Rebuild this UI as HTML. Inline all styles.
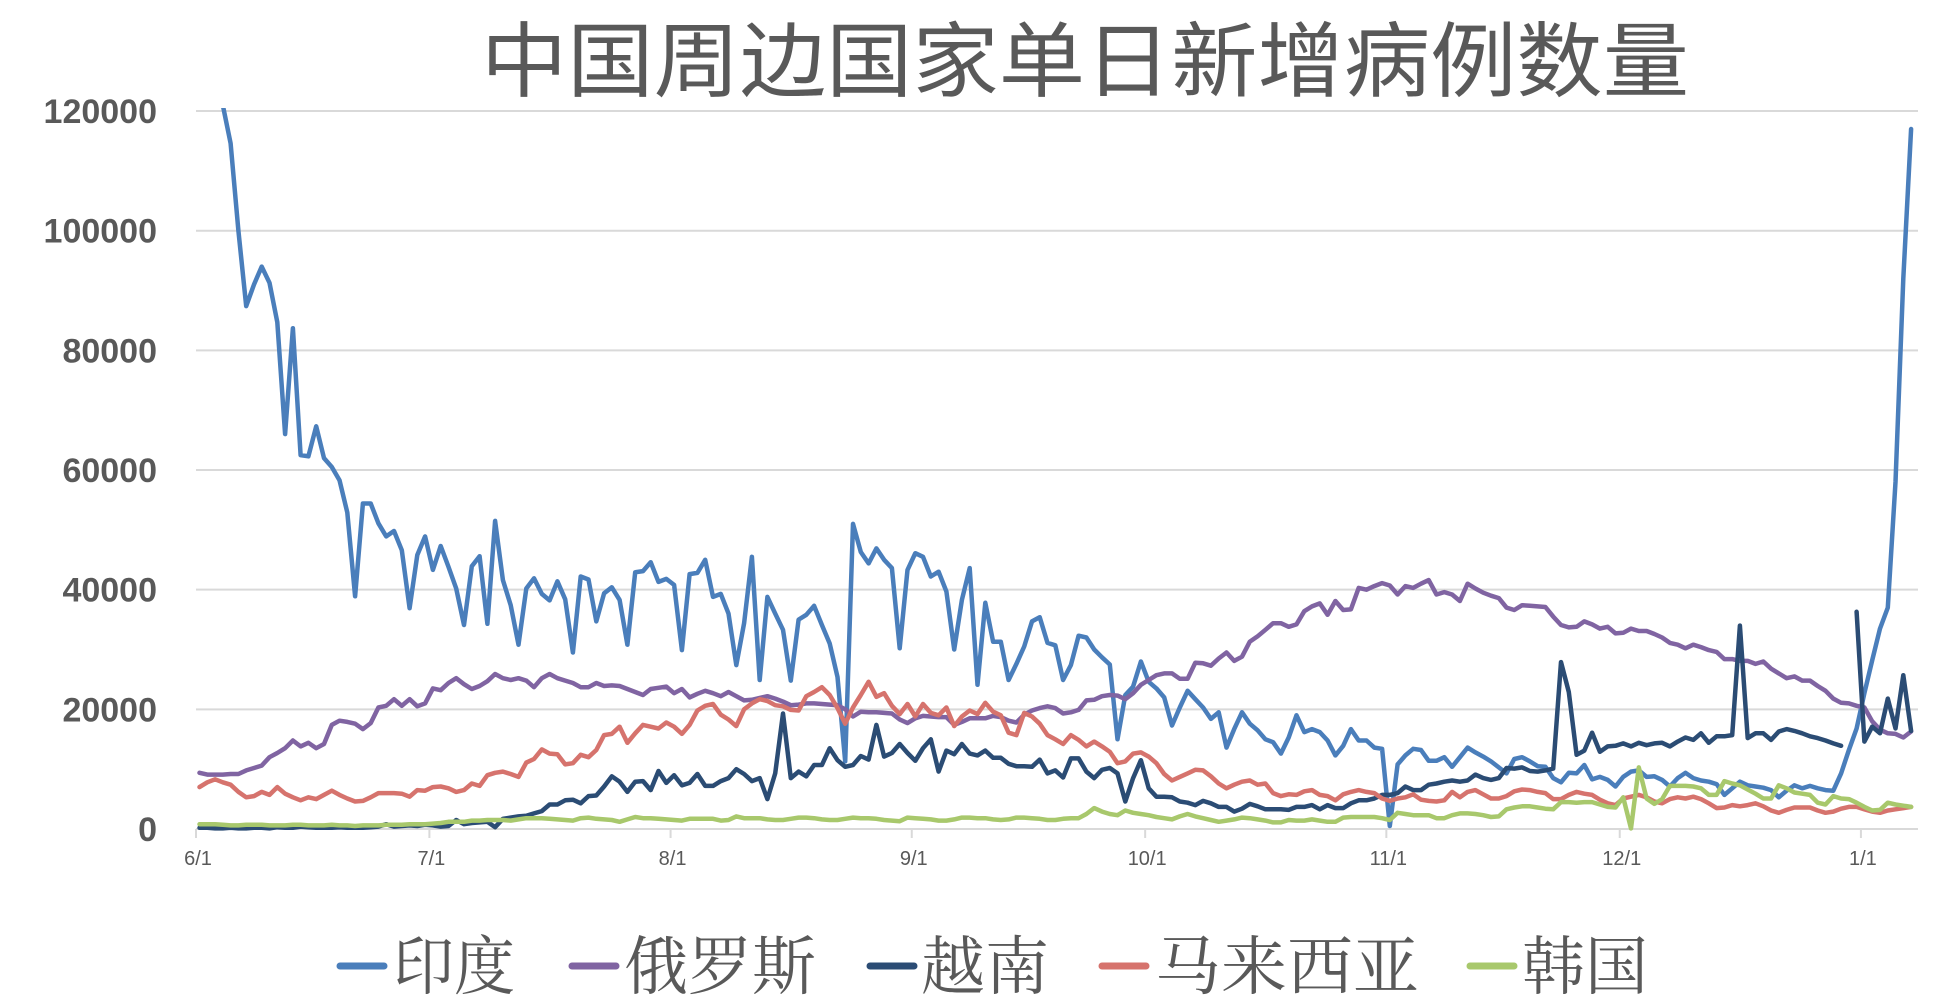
<!DOCTYPE html>
<html><head><meta charset="utf-8"><title>中国周边国家单日新增病例数量</title>
<style>
html,body{margin:0;padding:0;background:#fff;}
svg{display:block;font-family:"Liberation Sans","Noto Sans CJK SC",sans-serif;}
</style></head>
<body>
<svg id="chart" width="1960" height="1004" viewBox="0 0 1960 1004" xmlns="http://www.w3.org/2000/svg">
<rect width="1960" height="1004" fill="#fff"/>
<text x="481" y="90" font-size="82" fill="#595959" textLength="1208" lengthAdjust="spacingAndGlyphs" font-family="'Liberation Sans','Noto Sans CJK SC',sans-serif">中国周边国家单日新增病例数量</text>
<defs><clipPath id="plotclip"><rect x="150" y="108" width="1790" height="730"/></clipPath></defs>
<g id="grid"></g>
<g id="yaxis"></g>
<g id="xaxis"></g>
<g id="series" clip-path="url(#plotclip)"></g>
<g id="legend"></g>
</svg>
<script>
// values in thousands of cases, index = day since 6/1
const seriesNames = ["印度","俄罗斯","越南","马来西亚","韩国"];
const yTicks = [0,20000,40000,60000,80000,100000,120000];
const monthLabels = ["6/1","7/1","8/1","9/1","10/1","11/1","12/1","1/1"];
const monthDays = [0,30,61,92,122,153,183,214];
const india = [135,130,126,121,114.6,100,87.4,91,94,91.3,84.7,66,83.7,62.5,62.3,67.3,62,60.5,58.3,52.9,38.9,54.4,54.4,51.1,48.9,49.8,46.6,36.9,45.8,48.9,43.3,47.3,43.8,40.2,34.1,43.9,45.6,34.3,51.5,41.6,37.4,30.8,40.2,41.9,39.3,38.2,41.4,38.4,29.5,42.2,41.7,34.7,39.4,40.4,38.3,30.8,42.9,43.1,44.6,41.3,41.8,40.8,29.9,42.6,42.8,45,38.8,39.3,36,27.4,34.4,45.5,24.9,38.8,36,33.3,24.8,35,35.8,37.3,34.1,31,25.4,11.3,51,46.3,44.4,46.9,45,43.6,30.2,43.3,46.1,45.5,42.2,43,39.7,30,38.3,43.6,24.1,37.8,31.3,31.3,24.9,27.6,30.5,34.7,35.4,31.1,30.7,24.9,27.4,32.3,32,30,28.7,27.5,15,22.4,23.8,28,24.6,23.5,22,17.3,20.3,23.1,21.7,20.3,18.4,19.5,13.6,16.7,19.5,17.6,16.5,15,14.5,12.6,15.3,19,16.2,16.7,16.2,14.8,12.3,13.9,16.7,14.8,14.8,13.6,13.4,0.5,10.8,12.3,13.4,13.2,11.4,11.4,12,10.4,12,13.6,12.8,12.1,11.3,10.3,9.3,11.7,12,11.3,10.5,10.4,8.5,7.8,9.4,9.3,10.7,8.3,8.7,8.2,7.1,8.7,9.6,9.8,8.7,8.8,8.2,7.1,8.5,9.4,8.5,8.1,7.9,7.5,5.7,6.8,7.9,7.3,7.1,6.9,6.5,5.3,6.4,7.3,6.8,7.2,6.8,6.5,6.4,9.3,13.2,16.8,22.7,28.2,33.5,37,58,92,117];
const russia = [9.4,9.1,9.1,9.1,9.2,9.2,9.8,10.2,10.6,12,12.7,13.5,14.8,13.8,14.4,13.5,14.2,17.4,18.1,17.9,17.6,16.7,17.7,20.3,20.6,21.7,20.6,21.7,20.5,21,23.5,23.2,24.4,25.2,24.2,23.4,23.9,24.7,25.9,25.2,24.9,25.2,24.8,23.7,25.2,25.9,25.2,24.8,24.4,23.7,23.7,24.4,23.9,24,23.9,23.4,22.9,22.4,23.4,23.6,23.8,22.7,23.4,22,22.6,23.1,22.7,22.2,22.9,22.2,21.5,21.6,21.9,22.2,21.8,21.3,20.7,20.8,21,21,20.9,20.8,20.7,20,18.8,19.6,19.5,19.5,19.4,19.3,18.3,17.7,18.5,18.9,18.8,18.7,18.7,17.4,17.9,18.5,18.5,18.5,18.9,18.7,18.1,17.8,19.1,19.8,20.2,20.5,20.2,19.3,19.5,19.9,21.5,21.6,22.2,22.4,22.3,21.7,22.7,24.1,24.9,25.7,26,26,25.1,25.1,27.8,27.7,27.3,28.5,29.5,28.1,28.8,31.3,32.2,33.3,34.4,34.4,33.8,34.2,36.4,37.2,37.7,35.8,38.1,36.6,36.7,40.3,40,40.6,41.1,40.7,39.2,40.6,40.3,41,41.6,39.2,39.6,39.2,38.1,41,40.2,39.5,39,38.6,37,36.6,37.4,37.3,37.2,37.1,35.5,34.1,33.7,33.8,34.7,34.2,33.5,33.8,32.7,32.8,33.5,33.1,33.1,32.6,32,31.1,30.8,30.2,30.8,30.4,29.9,29.6,28.4,28.4,28.1,28.1,27.6,28,26.8,26,25.2,25.5,24.8,24.8,23.9,23.1,21.8,21.1,21,20.6,20.3,18,16.6,16,15.9,15.3,16.3];
const vietnam = [0.2,0.2,0.1,0.1,0.2,0.1,0.1,0.2,0.2,0.1,0.3,0.2,0.2,0.4,0.3,0.2,0.2,0.2,0.3,0.2,0.2,0.2,0.3,0.4,0.8,0.4,0.5,0.6,0.5,0.7,0.6,0.4,0.5,1.5,0.8,1,1.1,1.2,0.3,1.7,1.9,2.1,2.2,2.6,3,4.1,4.1,4.8,4.9,4.3,5.5,5.6,7.1,8.8,7.9,6.2,7.9,8,6.5,9.7,7.7,9,7.3,7.7,9.2,7.2,7.2,8,8.5,10,9.2,8,8.5,5,9.3,19.3,8.5,9.6,8.8,10.7,10.7,13.5,11.5,10.4,10.7,12.2,11.6,17.4,12.1,12.7,14.2,12.7,11.4,13.5,15,9.6,13.1,12.5,14.2,12.6,12.3,13.1,11.9,11.9,10.9,10.5,10.5,10.4,11.6,9.3,9.8,8.6,11.8,11.8,9.6,8.5,9.9,10.2,9.3,4.6,8.5,11.5,6.8,5.4,5.4,5.3,4.6,4.4,4,4.7,4.3,3.7,3.7,2.9,3.4,4.2,3.8,3.3,3.3,3.3,3.2,3.7,3.7,4,3.3,4,3.5,3.5,4.3,4.8,4.8,5.1,5.7,5.7,6,7.1,6.5,6.5,7.4,7.6,7.9,8.1,7.9,8.1,9.1,8.5,8.2,8.5,10.2,10.1,10.3,9.7,9.6,9.8,10.1,27.9,22.9,12.4,13.1,16.1,12.9,13.8,13.9,14.3,13.8,14.4,14,14.3,14.4,13.8,14.6,15.3,14.9,16,14.4,15.5,15.5,15.7,34,15.2,16,16,14.9,16.3,16.7,16.4,16,15.5,15.2,14.8,14.3,13.9,null,36.3,14.6,17.1,16,21.8,16.8,25.7,16.4];
const malaysia = [7,7.8,8.3,7.8,7.4,6.2,5.3,5.5,6.2,5.7,7,5.9,5.3,4.8,5.3,5,5.7,6.4,5.7,5.1,4.6,4.7,5.3,6,6,6,5.9,5.4,6.5,6.4,7,7.1,6.8,6.2,6.5,7.6,7.2,9,9.4,9.6,9.2,8.7,11.1,11.7,13.3,12.6,12.5,10.8,11,12.4,12,13.2,15.7,15.9,17.1,14.4,16,17.4,17.1,16.8,17.8,17.1,15.9,17.4,19.8,20.6,20.9,19.1,18.3,17.2,20,21,21.7,21.4,20.7,20.5,19.9,19.8,22.2,22.9,23.7,22.4,20.2,17.6,20.3,22.4,24.6,22.1,22.7,20.6,19.2,20.9,18.8,20.9,19.4,19,20.3,17.2,18.8,19.8,19.2,21.1,19.6,19,16.1,15.7,19.4,18.8,17.6,15.7,15,14.2,15.7,14.9,13.8,14.6,13.8,12.9,11,11.3,12.6,12.8,12.1,11,9.2,8.1,8.7,9.3,9.9,9.8,8.8,7.6,6.8,7.4,7.9,8.1,7.4,7.6,6,5.5,5.8,5.7,6.3,6.5,5.7,5.5,4.8,5.8,6.2,6.5,6.2,6,5.1,4.7,5.1,5.3,5.8,4.9,4.7,4.6,4.8,6.2,5.3,6.2,6.5,5.8,5.1,5.1,5.5,6.3,6.6,6.5,6.2,6,5,5,5.7,6.2,5.9,5.7,4.9,4.3,4,5.1,5.4,5.7,5.3,4.6,4.3,5,5.3,5.1,5.4,5,4.3,3.5,3.6,4,3.8,4,4.3,3.8,3.1,2.7,3.2,3.6,3.6,3.6,3.1,2.7,2.9,3.4,3.7,3.7,3.3,2.9,2.7,3.1,3.3,3.5,3.7];
const korea = [0.8,0.8,0.8,0.7,0.6,0.6,0.7,0.7,0.7,0.6,0.6,0.6,0.7,0.7,0.6,0.6,0.6,0.7,0.6,0.6,0.5,0.6,0.6,0.6,0.7,0.7,0.7,0.8,0.8,0.8,0.9,1,1.2,1.2,1.2,1.4,1.4,1.5,1.5,1.5,1.4,1.6,1.8,1.8,1.8,1.7,1.6,1.5,1.4,1.8,1.9,1.7,1.6,1.5,1.2,1.6,2,1.8,1.8,1.7,1.6,1.5,1.4,1.7,1.7,1.7,1.7,1.4,1.5,2.1,1.8,1.8,1.8,1.6,1.5,1.5,1.7,1.9,1.9,1.8,1.6,1.5,1.5,1.7,1.9,1.8,1.8,1.7,1.5,1.4,1.3,1.9,1.8,1.7,1.6,1.4,1.4,1.6,1.9,1.9,1.8,1.8,1.6,1.5,1.6,1.9,1.9,1.8,1.7,1.5,1.5,1.7,1.8,1.8,2.5,3.5,2.9,2.5,2.3,3.1,2.7,2.5,2.3,2,1.8,1.6,2.1,2.5,2.1,1.8,1.5,1.2,1.4,1.6,1.9,1.8,1.6,1.4,1.1,1.1,1.5,1.4,1.4,1.6,1.4,1.2,1.2,1.9,2,2,2,2,1.8,1.5,2.7,2.5,2.3,2.3,2.3,1.8,1.8,2.3,2.6,2.6,2.5,2.3,2,2.1,3.3,3.6,3.8,3.8,3.6,3.4,3.3,4.5,4.5,4.4,4.5,4.5,4.1,3.7,3.6,5.3,0.1,10.3,5.1,4.2,5,7.2,7.2,7.2,7.1,6.8,5.7,5.7,8,7.6,7.3,6.6,5.9,5.1,5.1,7.3,6.8,6.1,5.9,5.7,4.4,4.1,5.5,5.1,5,4.4,3.7,3.1,3.2,4.4,4.1,3.9,3.7];

const NS = "http://www.w3.org/2000/svg";
const X0 = 196, DAY = 7.78, PLOT_R = 1918, Y0 = 829, PX_PER_UNIT = 0.005983;
function xTick(d){ return X0 + d*DAY; }
function xPoint(i){ return X0 + (i+0.45)*DAY; }
function yScale(v){ return Y0 - v*PX_PER_UNIT; }
function mk(tag, attrs, parent){ const e=document.createElementNS(NS,tag); for(const k in attrs) e.setAttribute(k,attrs[k]); parent.appendChild(e); return e; }

const grid=document.getElementById('grid'), yax=document.getElementById('yaxis'), xax=document.getElementById('xaxis');
yTicks.forEach(function(t){
  const y=yScale(t);
  const ln=mk('line',{x1:X0,x2:PLOT_R,y1:y,y2:y,stroke:'#d9d9d9','stroke-width':2},grid);
  
  
  const tx=mk('text',{x:157,y:y+12,'text-anchor':'end','font-size':34,'font-weight':'bold',fill:'#595959'},yax);
  
  
  tx.textContent=String(t);
});
monthLabels.forEach(function(lab,k){
  const x=xTick(monthDays[k]);
  const tk=mk('line',{x1:x,x2:x,y1:Y0,y2:Y0+9,stroke:'#d9d9d9','stroke-width':2},xax);
  
  
  const tx=mk('text',{x:x+2,y:865,'text-anchor':'middle','font-size':20,fill:'#595959'},xax);
  
  
  tx.textContent=lab;
});

const seriesData=[india,russia,vietnam,malaysia,korea];
const colors=['#4a7ebb','#8064a2','#2b4c74','#d6736d','#a8c86c'];
const keys=['india','russia','vietnam','malaysia','korea'];
const sg=document.getElementById('series');
seriesData.forEach(function(arr,s){
  let d='', pen=false;
  arr.forEach(function(v,i){
    if(v===null){ pen=false; return; }
    d += (pen?'L':'M') + xPoint(i).toFixed(1) + ',' + yScale(v*1000).toFixed(1);
    pen=true;
  });
  const p=mk('path',{d:d,fill:'none',stroke:colors[s],'stroke-width':4.5,'stroke-linejoin':'round','stroke-linecap':'round'},sg);
  
  
});

const lg=document.getElementById('legend');
const legLineX=[337,569,867,1099,1467];
const legTextX=[393,624,921,1155,1522];
const legTextW=[122,192,128,264,126];
seriesNames.forEach(function(nm,s){
  const g=mk('g',{},lg);
  
  
  mk('line',{x1:legLineX[s]+3,x2:legLineX[s]+47,y1:966,y2:966,stroke:colors[s],'stroke-width':7,'stroke-linecap':'round'},g);
  const t=mk('text',{x:legTextX[s],y:989,'font-size':64,fill:'#595959',textLength:legTextW[s],lengthAdjust:'spacingAndGlyphs','font-family':"'Liberation Serif','Noto Serif CJK SC',serif"},g);
  t.textContent=nm;
});
</script>
</body></html>
